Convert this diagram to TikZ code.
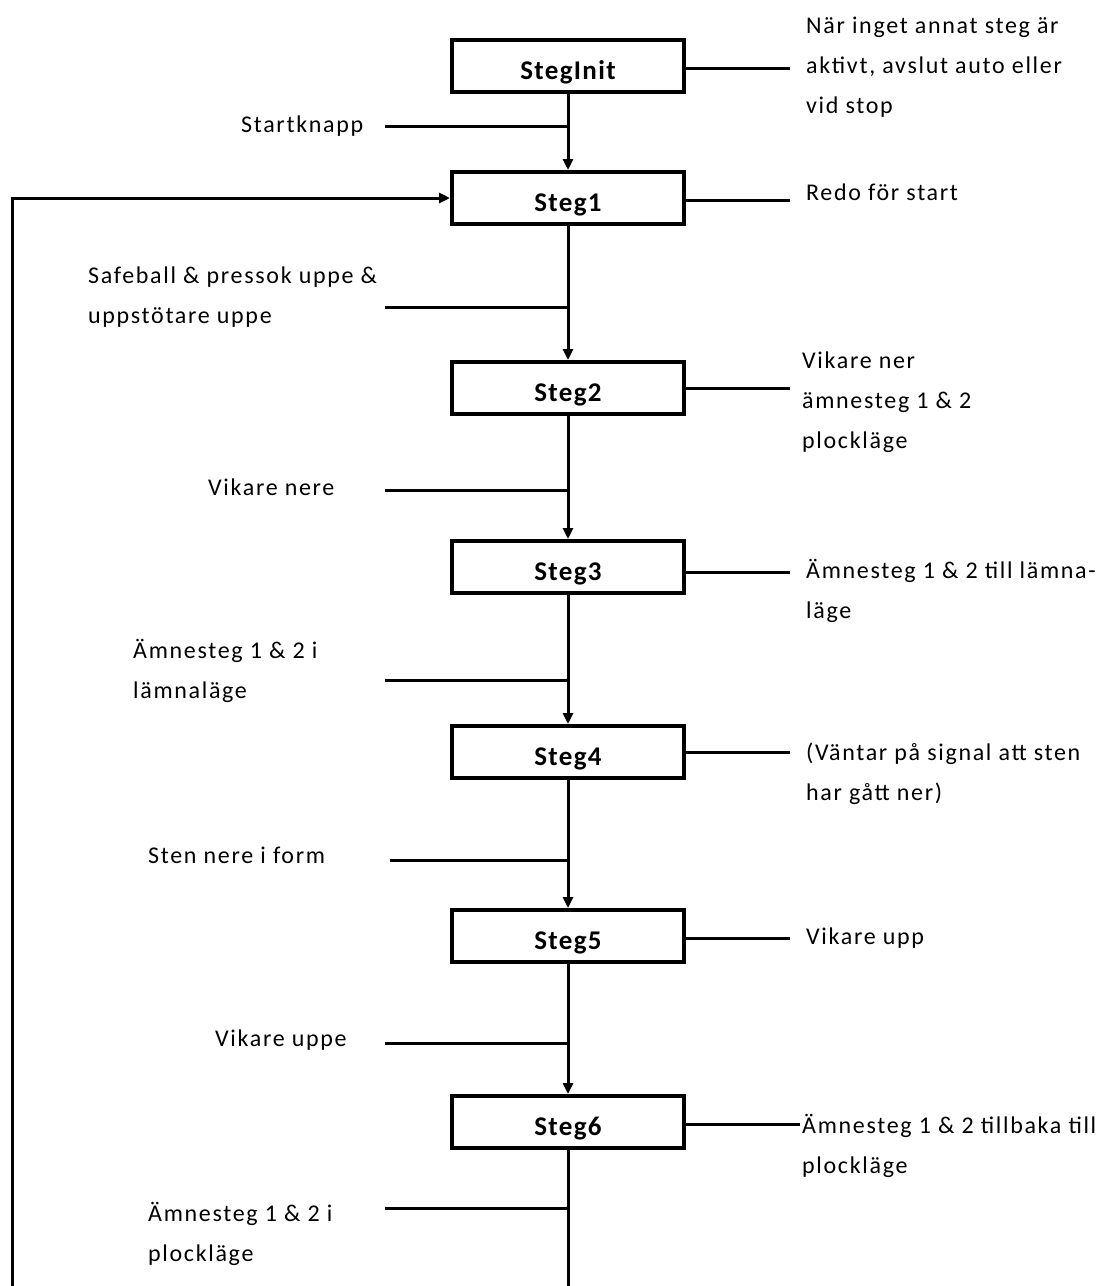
\documentclass[tikz,border=0pt]{standalone}
\usepackage{fontspec}
\setmainfont{Carlito}[LetterSpace=7]
\newfontfamily\boxfont{Carlito}[LetterSpace=5]
\usetikzlibrary{arrows.meta}
\begin{document}
\begin{tikzpicture}[x=1pt,y=-1pt,
  stepbox/.style={draw,line width=4pt,minimum width=232pt,minimum height=52pt,
    inner sep=0pt,text height=26pt,text depth=0pt,
    font=\fontsize{27}{30}\selectfont\boxfont\bfseries},
  flow/.style={line width=3pt,-{Triangle[length=11pt,width=10pt]}},
  wire/.style={line width=3pt},
  note/.style={anchor=west,align=left,inner sep=0pt,font=\fontsize{24}{40}\selectfont},
]
\useasboundingbox (0,0) rectangle (1114,1286);

% steps
\node[stepbox] (init) at (568,66) {StegInit};
\node[stepbox] (s1) at (568,198) {Steg1};
\node[stepbox] (s2) at (568,388) {Steg2};
\node[stepbox] (s3) at (568,567) {Steg3};
\node[stepbox] (s4) at (568,752) {Steg4};
\node[stepbox] (s5) at (568,936) {Steg5};
\node[stepbox] (s6) at (568,1122) {Steg6};

% actions on the right
\coordinate (a0) at (790,68);
\coordinate (a1) at (790,200);
\coordinate (a2) at (790,388);
\coordinate (a3) at (790,572);
\coordinate (a4) at (790,752);
\coordinate (a5) at (790,938);
\coordinate (a6) at (800,1124);
\foreach \s/\a in {init/a0,s1/a1,s2/a2,s3/a3,s4/a4,s5/a5,s6/a6}
  \draw[wire] (\s.east |- \a) -- (\a);

\node[note] (n0) at (806,67) {När inget annat steg är\\aktivt, avslut auto eller\\vid stop};
\node[note] (n1) at (806,192) {Redo för start};
\node[note] (n2) at (802,402) {Vikare ner\\ämnesteg 1 \& 2\\plockläge};
\node[note] (n3) at (806,591) {Ämnesteg 1 \& 2 till lämna-\\läge};
\node[note] (n4) at (806,774) {(Väntar på signal att sten\\har gått ner)};
\node[note] (n5) at (806,938) {Vikare upp};
\node[note] (n6) at (802,1146) {Ämnesteg 1 \& 2 tillbaka till\\plockläge};

% flow between steps
\coordinate (end) at (568,1286);
\draw[flow] (init) -- (s1);
\draw[flow] (s1) -- (s2);
\draw[flow] (s2) -- (s3);
\draw[flow] (s3) -- (s4);
\draw[flow] (s4) -- (s5);
\draw[flow] (s5) -- (s6);
\draw[wire] (s6) -- (end);

% return to Steg1
\coordinate (back) at (12,1286);
\draw[flow] (back) |- (s1.west);

% transitions
\coordinate (t0) at (385,126);
\coordinate (t1) at (385,307);
\coordinate (t2) at (385,490);
\coordinate (t3) at (385,680);
\coordinate (t4) at (390,860);
\coordinate (t5) at (385,1043);
\coordinate (t6) at (385,1208);
\foreach \t in {t0,t1,t2,t3,t4,t5,t6}
  \draw[wire] (\t) -- (\t -| init.center);

\node[note] (c0) at (241,126) {Startknapp};
\node[note] (c1) at (88,297) {Safeball \& pressok uppe \&\\uppstötare uppe};
\node[note] (c2) at (208,487) {Vikare nere};
\node[note] (c3) at (133,671) {Ämnesteg 1 \& 2 i\\lämnaläge};
\node[note] (c4) at (148,855) {Sten nere i form};
\node[note] (c5) at (215,1040) {Vikare uppe};
\node[note] (c6) at (148,1234) {Ämnesteg 1 \& 2 i\\plockläge};
\end{tikzpicture}
\end{document}
